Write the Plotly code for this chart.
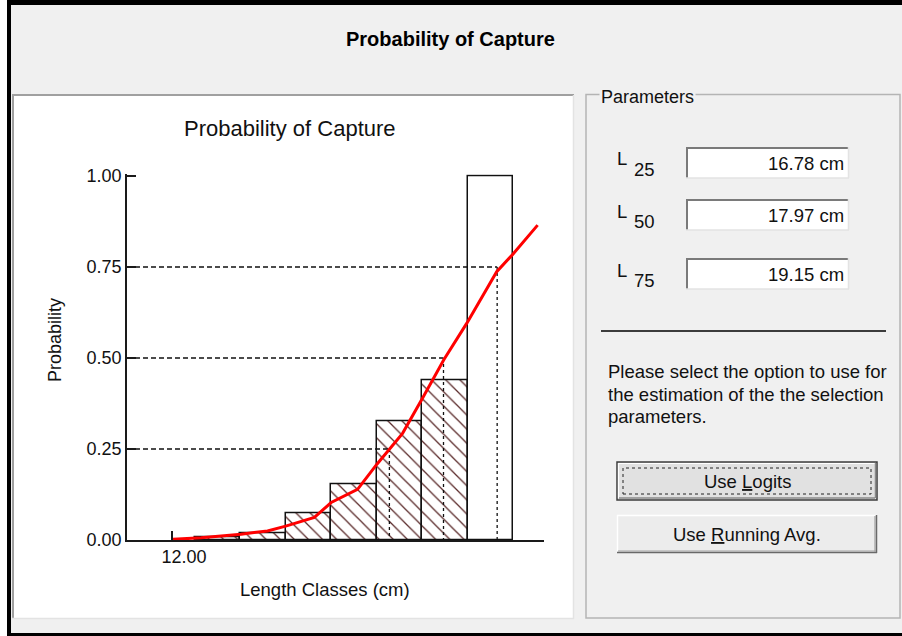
import plotly.graph_objects as go

# ---------------- data ----------------
length_classes = [13, 14, 15, 16, 17, 18, 19]
prob_observed = [0.008, 0.018, 0.073, 0.154, 0.327, 0.439, 1.0]

curve_length = [12.02, 12.64, 13.52, 14.1, 14.5, 15.13, 15.5, 16.08, 16.51,
                17.07, 17.52, 17.98, 18.48, 19.14, 19.5, 20.04]
curve_prob = [0.002, 0.006, 0.016, 0.025, 0.038, 0.062, 0.103, 0.139, 0.209,
              0.293, 0.392, 0.496, 0.595, 0.737, 0.786, 0.865]

sel_levels = [0.25, 0.50, 0.75]
sel_lengths = [16.78, 17.97, 19.15]
sel_labels = ["25", "50", "75"]
sel_texts = ["16.78 cm", "17.97 cm", "19.15 cm"]

y_ticks = [0, 0.25, 0.5, 0.75, 1.0]
y_ticktext = ["0.00", "0.25", "0.50", "0.75", "1.00"]
x_ticks = [12]
x_ticktext = ["12.00"]

# ---------------- helpers ----------------
W, H = 902, 636
FONT = "Liberation Sans, Arial, sans-serif"
X_RANGE = [11.01, 20.18]
Y_RANGE = [0, 1.005]
Y0_PX, Y1_PX = 540, 176          # pixel rows of p=0 and p=1
Y_TOP_PX = Y0_PX - (Y0_PX - Y1_PX) * Y_RANGE[1]


def X(px):
    return px / W


def Y(py):
    return 1 - py / H


shapes = []


def rect(x0, y0, x1, y1, fill=None, line=None, lw=0, dash=None, layer="below"):
    shapes.append(dict(type="rect", xref="paper", yref="paper",
                       x0=X(x0), x1=X(x1), y0=Y(y1), y1=Y(y0),
                       fillcolor=fill if fill else "rgba(0,0,0,0)",
                       line=dict(color=line if line else "rgba(0,0,0,0)", width=lw,
                                 dash=dash if dash else "solid"),
                       layer=layer))


def seg(x0, y0, x1, y1, color, width, dash=None, layer="below"):
    shapes.append(dict(type="line", xref="paper", yref="paper",
                       x0=X(x0), x1=X(x1), y0=Y(y0), y1=Y(y1),
                       line=dict(color=color, width=width, dash=dash if dash else "solid"),
                       layer=layer))


annotations = []


def text(x, y, s, size=18.5, xanchor="center", yanchor="middle", bold=False,
         angle=0, bg=None, color="#111111"):
    annotations.append(dict(xref="paper", yref="paper", x=X(x), y=Y(y),
                            text=f"<b>{s}</b>" if bold else s, showarrow=False,
                            xanchor=xanchor, yanchor=yanchor, textangle=angle,
                            font=dict(family=FONT, size=size, color=color),
                            bgcolor=bg if bg else "rgba(0,0,0,0)", borderpad=1))


# ---------------- window chrome ----------------
rect(0, 0, 7, 636, fill="white")
rect(7, 0, 902, 5, fill="black")
rect(7, 0, 11, 636, fill="black")
rect(7, 633, 902, 636, fill="black")

# chart panel (sunken)
rect(13, 96, 573, 618, fill="white")
seg(12, 95, 574, 95, "#a0a0a0", 2)
seg(13, 95, 13, 619, "#a0a0a0", 2)
seg(12, 618.5, 574, 618.5, "#e3e3e3", 1.5)
seg(573.5, 95, 573.5, 619, "#e3e3e3", 1.5)

# group box
rect(586, 94.5, 900, 618, line="#b4b4b4", lw=1.5)
text(599, 97, "Parameters", size=18, xanchor="left", bg="#f0f0f0")

# parameter boxes
for i, (lbl, val) in enumerate(zip(sel_labels, sel_texts)):
    top = [147, 199, 258][i]
    bot = top + 31
    rect(686, top, 849, bot, fill="white")
    seg(686, top + 1, 849, top + 1, "#7a7a7a", 2)
    seg(687, top, 687, bot, "#7a7a7a", 2)
    seg(686, bot, 849, bot, "#e3e3e3", 1.5)
    seg(848.5, top, 848.5, bot, "#e3e3e3", 1.5)
    cy = (top + bot) / 2
    text(845.5, cy + 0.5, val, xanchor="right")
    text(615, cy - 3.5 - (1 if i == 0 else 0), "L", xanchor="left")
    text(631.5, cy + 6.5, lbl, xanchor="left")

seg(601, 331, 886, 331, "black", 1.5)
text(606, 371.5, "Please select the option to use for", xanchor="left")
text(606, 394, "the estimation of the the selection", xanchor="left")
text(606, 416.5, "parameters.", xanchor="left")

# buttons
rect(617, 462, 877, 500, fill="#e1e1e1", line="#3c3c3c", lw=1.5)
seg(619, 463.5, 875, 463.5, "white", 1.2)
seg(618.5, 463, 618.5, 498, "white", 1.2)
seg(619, 498, 875, 498, "#8a8a8a", 1.5)
seg(875.5, 463, 875.5, 498, "#8a8a8a", 1.5)
rect(623, 468, 871, 494, line="#222222", lw=1, dash="dot")
text(747, 481.5, "Use <u>L</u>ogits")

rect(617, 515, 877, 553, fill="#ececec")
seg(617, 515.5, 877, 515.5, "white", 1.5)
seg(617.5, 515, 617.5, 553, "white", 1.5)
seg(617, 552.5, 877, 552.5, "#696969", 1.5)
seg(876.5, 515, 876.5, 553, "#696969", 1.5)
seg(618, 551, 876, 551, "#a0a0a0", 1.2)
seg(875, 516, 875, 552, "#a0a0a0", 1.2)
text(747, 534, "Use <u>R</u>unning Avg.")

# window title and chart texts
text(450, 39, "Probability of Capture", size=20, bold=True, color="black")
text(289.5, 128.5, "Probability of Capture", size=22)
text(324.5, 589, "Length Classes (cm)", size=18.5)
text(55, 340, "Probability", size=18, angle=-90)

# ---------------- traces ----------------
fig = go.Figure()

patterns = ["\\" if p < max(prob_observed) else "" for p in prob_observed]
fig.add_trace(go.Bar(
    x=length_classes, y=prob_observed, width=1,
    marker=dict(color="white", line=dict(color="#111111", width=1.5),
                pattern=dict(shape=patterns, fgcolor="#5a2a2a", bgcolor="white",
                             size=10, solidity=0.13, fillmode="replace")),
    hoverinfo="skip", showlegend=False))

# dashed selection lines
hx, hy, vx, vy = [], [], [], []
for lev, ln in zip(sel_levels, sel_lengths):
    hx += [X_RANGE[0], ln, None]
    hy += [lev, lev, None]
    vx += [ln, ln, None]
    vy += [lev, 0, None]
fig.add_trace(go.Scatter(x=hx, y=hy, mode="lines",
                         line=dict(color="#111111", width=1.3, dash="5px,3px"),
                         hoverinfo="skip", showlegend=False))
fig.add_trace(go.Scatter(x=vx, y=vy, mode="lines",
                         line=dict(color="#111111", width=1.3, dash="3px,3px"),
                         hoverinfo="skip", showlegend=False))

fig.add_trace(go.Scatter(x=curve_length, y=curve_prob, mode="lines",
                         line=dict(color="#ff0000", width=3),
                         hoverinfo="skip", showlegend=False, cliponaxis=False))

axis_common = dict(showline=True, linecolor="#1a1a1a", linewidth=1.5, mirror=False,
                   showgrid=False, zeroline=False, ticks="inside", ticklen=9,
                   tickwidth=1.5, tickcolor="#1a1a1a", automargin=False,
                   tickfont=dict(family=FONT, size=18, color="#111111"))

fig.update_layout(
    width=W, height=H, autosize=False,
    margin=dict(l=0, r=0, t=0, b=0, pad=0, autoexpand=False),
    paper_bgcolor="#f0f0f0", plot_bgcolor="rgba(0,0,0,0)",
    bargap=0, hovermode=False,
    xaxis=dict(domain=[X(127), X(544)], range=X_RANGE, tickvals=x_ticks,
               ticktext=x_ticktext, ticklabelshift=12, **axis_common),
    yaxis=dict(domain=[Y(Y0_PX), Y(Y_TOP_PX)], range=Y_RANGE, tickvals=y_ticks,
               ticktext=y_ticktext, **axis_common),
    shapes=shapes, annotations=annotations,
)

fig.write_html("out.html", config={"displayModeBar": False},
               post_script="document.body.style.margin='0';"
                           "document.body.style.overflow='hidden';")
